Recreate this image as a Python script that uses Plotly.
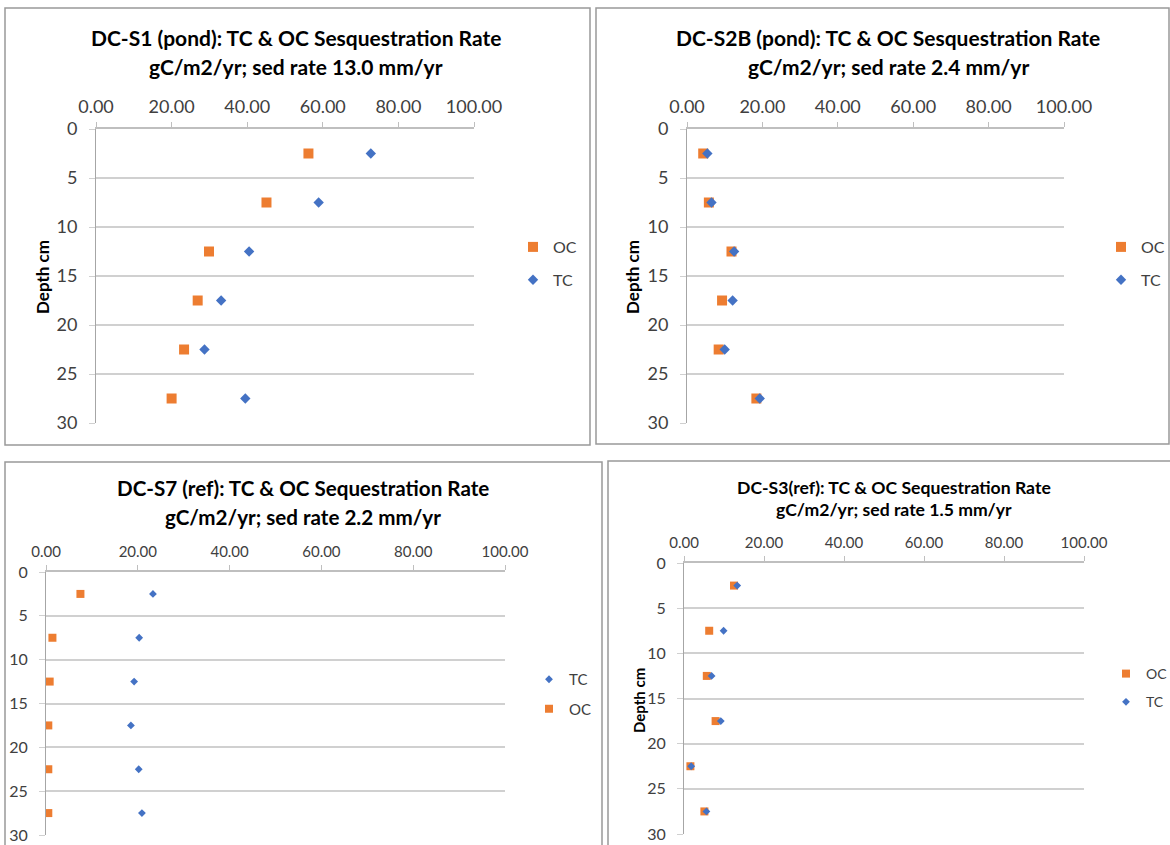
import plotly.graph_objects as go

# ---------------- data ----------------
depth = [2.5, 7.5, 12.5, 17.5, 22.5, 27.5]

s1_oc = [56.2, 45.1, 29.9, 26.9, 23.3, 20.0]
s1_tc = [72.7, 58.9, 40.5, 33.1, 28.7, 39.5]

s2b_oc = [4.3, 5.8, 11.8, 9.3, 8.4, 18.4]
s2b_tc = [5.4, 6.5, 12.5, 12.1, 10.0, 19.3]

s7_tc = [23.3, 20.3, 19.2, 18.5, 20.2, 20.9]
s7_oc = [7.5, 1.4, 0.8, 0.5, 0.5, 0.5]

s3_oc = [12.5, 6.3, 5.7, 7.9, 1.6, 5.1]
s3_tc = [13.3, 9.9, 6.9, 9.2, 1.8, 5.6]

x_ticks = [0, 20, 40, 60, 80, 100]
y_ticks = [0, 5, 10, 15, 20, 25, 30]

titles = [
    ("DC-S1 (pond): TC & OC Sesquestration Rate", "gC/m2/yr; sed rate 13.0 mm/yr"),
    ("DC-S2B (pond): TC & OC Sesquestration Rate", "gC/m2/yr; sed rate 2.4 mm/yr"),
    ("DC-S7 (ref): TC & OC Sequestration Rate", "gC/m2/yr; sed rate 2.2 mm/yr"),
    ("DC-S3(ref): TC & OC Sequestration Rate", "gC/m2/yr; sed rate 1.5 mm/yr"),
]
y_title = "Depth cm"

# ---------------- layout helpers ----------------
W, H = 1170, 845
FONT = "Lato"
OC_COLOR = "#ED7D31"
TC_COLOR = "#4472C4"


def px(x):
    return x / W


def py(y):
    return 1 - y / H


panels = [
    dict(plot=(96, 474, 129, 423), border=(5, 590, 8, 445), tcenter=296, ty=(38, 66),
         tfont=21, tick=18, ytick=18, leg=(513, 230), legfont=16, ms=10, md=8,
         ytitle=(42, 277), ytfont=17, order=[("OC", s1_oc), ("TC", s1_tc)]),
    dict(plot=(687, 1064, 129, 423), border=(596, 1169, 8, 444), tcenter=888, ty=(38, 66),
         tfont=21, tick=18, ytick=18, leg=(1101, 230), legfont=16, ms=10, md=8,
         ytitle=(632, 277), ytfont=17, order=[("OC", s2b_oc), ("TC", s2b_tc)]),
    dict(plot=(46, 505, 572, 835), border=(5, 602, 462, 850), tcenter=303, ty=(488, 517),
         tfont=20.6, tick=15, ytick=16, leg=(529, 663), legfont=15, ms=8, md=6,
         ytitle=None, ytfont=15, order=[("TC", s7_tc), ("OC", s7_oc)]),
    dict(plot=(684, 1084, 563, 834), border=(608, 1172, 461, 850), tcenter=894, ty=(487, 509),
         tfont=17.6, tick=15, ytick=16, leg=(1106, 658), legfont=14, ms=8, md=6,
         ytitle=(639, 700), ytfont=15, order=[("OC", s3_oc), ("TC", s3_tc)]),
]

fig = go.Figure()
shapes = []
annotations = []
layout = {}

for i, p in enumerate(panels):
    n = i + 1
    xa = "x" if n == 1 else f"x{n}"
    ya = "y" if n == 1 else f"y{n}"
    lg = "legend" if n == 1 else f"legend{n}"
    x0, x1, y0, y1 = p["plot"]

    for name, vals in p["order"]:
        is_oc = name == "OC"
        fig.add_trace(go.Scatter(
            x=vals, y=depth, mode="markers", name=name,
            xaxis=xa, yaxis=ya, legend=lg, legendgroup=f"{n}{name}",
            marker=dict(
                symbol="square" if is_oc else "diamond",
                color=OC_COLOR if is_oc else TC_COLOR,
                size=p["ms"] if is_oc else p["md"],
                line=dict(width=0),
            ),
            hovertemplate=f"{name}: %{{x:.2f}}<br>Depth: %{{y}} cm<extra></extra>",
        ))

    layout["xaxis" if n == 1 else f"xaxis{n}"] = dict(
        domain=[px(x0), px(x1)], anchor=ya, side="top", range=[0, 100],
        tickvals=x_ticks, tickformat=".2f", ticks="outside", ticklen=5,
        tickcolor="#bfbfbf", showline=True, linecolor="#bfbfbf", linewidth=1.5,
        showgrid=False, zeroline=False, ticklabelstandoff=2, automargin=False,
        tickfont=dict(family=FONT, size=p["tick"], color="#404040"), fixedrange=True,
    )
    layout["yaxis" if n == 1 else f"yaxis{n}"] = dict(
        domain=[py(y1), py(y0)], anchor=xa, range=[30, 0],
        tickvals=y_ticks, ticks="outside", ticklen=6, tickcolor="#d0d0d0",
        showline=True, linecolor="#a6a6a6", linewidth=1,
        showgrid=True, gridcolor="#d0d0d0", gridwidth=1.5, zeroline=False,
        ticklabelstandoff=8, automargin=False,
        tickfont=dict(family=FONT, size=p["ytick"], color="#404040"), fixedrange=True,
    )
    layout[lg] = dict(
        x=px(p["leg"][0]), y=py(p["leg"][1]), xanchor="left", yanchor="top",
        xref="paper", yref="paper", bgcolor="rgba(0,0,0,0)",
        font=dict(family=FONT, size=p["legfont"], color="#404040"),
        traceorder="grouped", tracegroupgap=9 if n <= 2 else 7, itemwidth=30,
    )

    bx0, bx1, by0, by1 = p["border"]
    shapes.append(dict(type="rect", xref="paper", yref="paper",
                       x0=px(bx0), x1=px(bx1), y0=py(by1), y1=py(by0),
                       line=dict(color="#999999", width=1.5), layer="below"))

    for line_text, ty in zip(titles[i], p["ty"]):
        annotations.append(dict(
            text=f"<b>{line_text}</b>", x=px(p["tcenter"]), y=py(ty),
            xref="paper", yref="paper", xanchor="center", yanchor="middle",
            showarrow=False, font=dict(family=FONT, size=p["tfont"], color="#000000"),
        ))
    if p["ytitle"] is not None:
        annotations.append(dict(
            text=f"<b>{y_title}</b>", x=px(p["ytitle"][0]), y=py(p["ytitle"][1]),
            xref="paper", yref="paper", xanchor="center", yanchor="middle",
            textangle=-90, showarrow=False,
            font=dict(family=FONT, size=p["ytfont"], color="#000000"),
        ))

fig.update_layout(
    width=W, height=H, autosize=False,
    margin=dict(l=0, r=0, t=0, b=0, autoexpand=False),
    paper_bgcolor="white", plot_bgcolor="white",
    shapes=shapes, annotations=annotations,
    font=dict(family=FONT),
    **layout,
)

fig.write_html(
    "out.html",
    config={"displayModeBar": False},
    post_script="document.body.style.margin='0';document.body.style.overflow='hidden';",
)
